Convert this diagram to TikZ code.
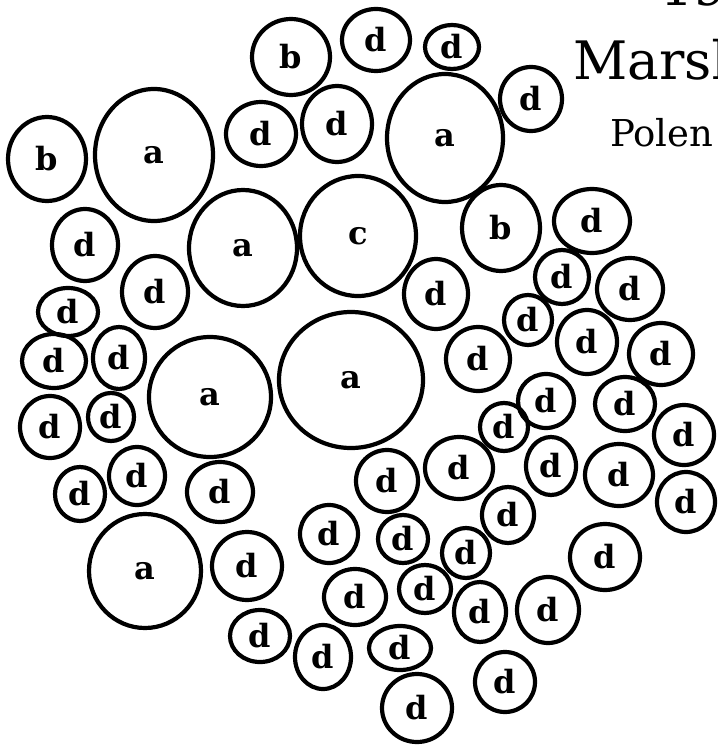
\documentclass[tikz,border=0pt]{standalone}
\usepackage{fontspec}
\setmainfont{DejaVu Serif}
\usetikzlibrary{shapes.geometric}

\begin{document}
\begin{tikzpicture}[x=1pt, y=-1pt, font=\fontsize{32}{34}\selectfont\bfseries]
    % Cell styles
    \tikzstyle{cell}=[ellipse,draw,line width=4.2pt,inner sep=0pt]
    \tikzstyle{caption}=[anchor=base west,inner sep=0pt]

    % Page frame
    \useasboundingbox (0,0) rectangle (717,746);

    % --- Title (cut by the right edge) ---
    \node[caption, font=\fontsize{52}{56}\selectfont] (fig_no) at (660,6) {19};
    \node[caption, font=\fontsize{53}{56}\selectfont] (title) at (573,80) {Marsh};
    \node[caption, font=\fontsize{37}{40}\selectfont] (subtitle) at (610,147) {Polen};

    % --- Large cells (a, c) ---
    \node[cell, minimum width=118pt, minimum height=132pt] (a_1) at (154,155) {a};
    \node[cell, minimum width=116pt, minimum height=128pt] (a_2) at (445,138) {a};
    \node[cell, minimum width=108pt, minimum height=116pt] (a_3) at (243,248) {a};
    \node[cell, minimum width=122pt, minimum height=120pt] (a_4) at (210,397) {a};
    \node[cell, minimum width=144pt, minimum height=136pt] (a_5) at (351,380) {a};
    \node[cell, minimum width=112pt, minimum height=114pt] (a_6) at (145,571) {a};
    \node[cell, minimum width=116pt, minimum height=120pt] (c_1) at (358,236) {c};

    % --- Medium cells (b) ---
    \node[cell, minimum width=78pt, minimum height=76pt] (b_1) at (291,57) {b};
    \node[cell, minimum width=78pt, minimum height=84pt] (b_2) at (47,159) {b};
    \node[cell, minimum width=78pt, minimum height=86pt] (b_3) at (501,228) {b};

    % --- Small cells (d), top ---
    \node[cell, minimum width=68pt, minimum height=62pt] (d_1) at (376,40) {d};
    \node[cell, minimum width=54pt, minimum height=44pt] (d_2) at (452,47) {d};
    \node[cell, minimum width=62pt, minimum height=64pt] (d_3) at (531,99) {d};
    \node[cell, minimum width=70pt, minimum height=64pt] (d_4) at (261,134) {d};
    \node[cell, minimum width=70pt, minimum height=76pt] (d_5) at (337,124) {d};
    \node[cell, minimum width=76pt, minimum height=64pt] (d_6) at (592,221) {d};

    % Left side
    \node[cell, minimum width=66pt, minimum height=72pt] (d_7) at (85,245) {d};
    \node[cell, minimum width=66pt, minimum height=72pt] (d_8) at (155,292) {d};
    \node[cell, minimum width=60pt, minimum height=48pt] (d_9) at (68,312) {d};
    \node[cell, minimum width=64pt, minimum height=54pt] (d_10) at (54,361) {d};
    \node[cell, minimum width=52pt, minimum height=62pt] (d_11) at (119,358) {d};
    \node[cell, minimum width=60pt, minimum height=62pt] (d_12) at (50,427) {d};
    \node[cell, minimum width=46pt, minimum height=48pt] (d_13) at (111,417) {d};
    \node[cell, minimum width=50pt, minimum height=54pt] (d_14) at (80,494) {d};
    \node[cell, minimum width=56pt, minimum height=58pt] (d_15) at (137,476) {d};
    \node[cell, minimum width=66pt, minimum height=60pt] (d_16) at (220,492) {d};

    % Right side
    \node[cell, minimum width=64pt, minimum height=70pt] (d_17) at (436,294) {d};
    \node[cell, minimum width=54pt, minimum height=54pt] (d_18) at (562,277) {d};
    \node[cell, minimum width=66pt, minimum height=62pt] (d_19) at (630,289) {d};
    \node[cell, minimum width=48pt, minimum height=50pt] (d_20) at (528,320) {d};
    \node[cell, minimum width=64pt, minimum height=64pt] (d_21) at (478,359) {d};
    \node[cell, minimum width=60pt, minimum height=64pt] (d_22) at (587,342) {d};
    \node[cell, minimum width=64pt, minimum height=62pt] (d_23) at (661,354) {d};
    \node[cell, minimum width=56pt, minimum height=54pt] (d_24) at (546,401) {d};
    \node[cell, minimum width=48pt, minimum height=48pt] (d_25) at (504,427) {d};
    \node[cell, minimum width=60pt, minimum height=54pt] (d_26) at (625,404) {d};
    \node[cell, minimum width=60pt, minimum height=60pt] (d_27) at (684,435) {d};

    % Middle band
    \node[cell, minimum width=62pt, minimum height=62pt] (d_28) at (387,481) {d};
    \node[cell, minimum width=68pt, minimum height=62pt] (d_29) at (459,468) {d};
    \node[cell, minimum width=50pt, minimum height=58pt] (d_30) at (551,466) {d};
    \node[cell, minimum width=68pt, minimum height=62pt] (d_31) at (619,475) {d};
    \node[cell, minimum width=58pt, minimum height=60pt] (d_32) at (686,502) {d};
    \node[cell, minimum width=52pt, minimum height=56pt] (d_33) at (508,515) {d};

    % --- Bottom ---
    \node[cell, minimum width=70pt, minimum height=68pt] (d_34) at (247,566) {d};
    \node[cell, minimum width=58pt, minimum height=58pt] (d_35) at (329,534) {d};
    \node[cell, minimum width=50pt, minimum height=48pt] (d_36) at (403,539) {d};
    \node[cell, minimum width=48pt, minimum height=50pt] (d_37) at (466,553) {d};
    \node[cell, minimum width=70pt, minimum height=66pt] (d_38) at (605,557) {d};
    \node[cell, minimum width=62pt, minimum height=56pt] (d_39) at (355,597) {d};
    \node[cell, minimum width=52pt, minimum height=48pt] (d_40) at (425,589) {d};
    \node[cell, minimum width=52pt, minimum height=60pt] (d_41) at (480,612) {d};
    \node[cell, minimum width=62pt, minimum height=66pt] (d_42) at (548,610) {d};
    \node[cell, minimum width=60pt, minimum height=52pt] (d_43) at (260,636) {d};
    \node[cell, minimum width=56pt, minimum height=64pt] (d_44) at (323,657) {d};
    \node[cell, minimum width=62pt, minimum height=44pt] (d_45) at (400,648) {d};
    \node[cell, minimum width=70pt, minimum height=68pt] (d_46) at (417,708) {d};
    \node[cell, minimum width=60pt, minimum height=60pt] (d_47) at (505,682) {d};

\end{tikzpicture}
\end{document}
